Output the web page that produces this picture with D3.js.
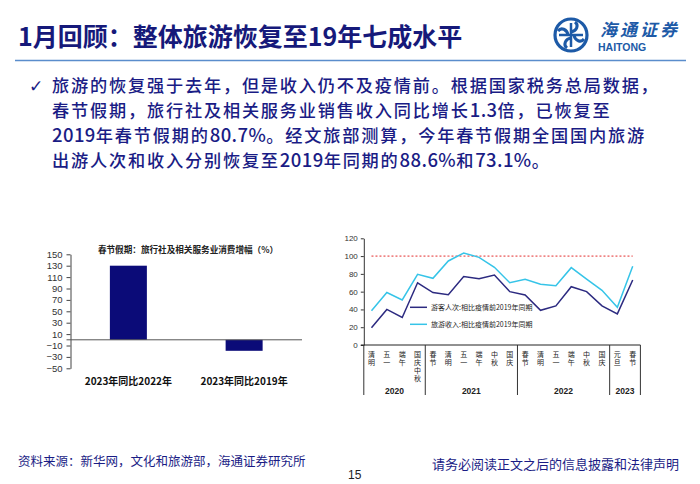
<!DOCTYPE html>
<html><head><meta charset="utf-8">
<script src="https://cdn.jsdelivr.net/npm/d3@7"></script>
<style>
html,body{margin:0;padding:0;background:#fff;}
svg{display:block;font-family:"Noto Sans CJK SC","Liberation Sans",sans-serif;}
.vt{writing-mode:vertical-rl;text-orientation:upright;}
</style></head>
<body>
<svg id="c" width="700" height="484"></svg>
<script>
// ---------- data ----------
const titleText = "1月回顾：整体旅游恢复至19年七成水平";
const bodyLines = [
  "旅游的恢复强于去年，但是收入仍不及疫情前。根据国家税务总局数据，",
  "春节假期，旅行社及相关服务业销售收入同比增长1.3倍，已恢复至",
  "2019年春节假期的80.7%。经文旅部测算，今年春节假期全国国内旅游",
  "出游人次和收入分别恢复至2019年同期的88.6%和73.1%。"
];
// left bar chart
const barTitle = "春节假期：旅行社及相关服务业消费增幅（%）";
const barCats = ["2023年同比2022年", "2023年同比2019年"];
const barVals = [130, -19.3];
const barTicks = [150, 130, 110, 90, 70, 50, 30, 10, -10, -30, -50];
// right line chart
const lineCats = ["清明","五一","端午","国庆中秋",
  "春节","清明","五一","端午","中秋","国庆",
  "春节","清明","五一","端午","中秋","国庆",
  "元旦","春节"];
const yearGroups = [{y:"2020",n:4},{y:"2021",n:6},{y:"2022",n:6},{y:"2023",n:2}];
const visitors = [19.5,40,31,70, 59,56.6,77,74.6,78.7,60, 56.3,39,44,65.6,60,44, 35,73.1];
const revenue  = [38.6,59,50.6,79.5, 75,94.5,103.5,98.6,87.4,70, 74,68.3,66.7,87,74,61.5, 42.4,88.6];
const baseline = lineCats.map(() => 100);
const lineTicks = [0,20,40,60,80,100,120];
const legendNames = ["游客人次:相比疫情前2019年同期","旅游收入:相比疫情前2019年同期"];
const footLeft = "资料来源：新华网，文化和旅游部，海通证券研究所";
const footRight = "请务必阅读正文之后的信息披露和法律声明";
const pageNo = "15";

const svg = d3.select("#c");
const navy = "#1a1c85";

// ---------- header ----------
svg.append("text").attr("x",18).attr("y",46).attr("font-size",25).attr("font-weight","bold")
  .attr("fill","#16197a").text(titleText);
svg.append("line").attr("x1",15).attr("x2",686).attr("y1",60.5).attr("y2",60.5)
  .attr("stroke","#5a8dcc").attr("stroke-width",1.5);

// logo
const logo = svg.append("g").attr("transform","translate(571,35)");
const lc = "#1d5aa7";
logo.append("circle").attr("r",16).attr("fill","none").attr("stroke",lc).attr("stroke-width",3.2);
[0,90,180,270].forEach(a=>{
  logo.append("path").attr("d","M0,-3 C6,-4 8,-10 4,-13").attr("fill","none")
    .attr("stroke",lc).attr("stroke-width",3).attr("transform",`rotate(${a})`);
});
logo.append("line").attr("x1",-12).attr("x2",12).attr("stroke",lc).attr("stroke-width",2.5);
logo.append("line").attr("y1",-12).attr("y2",12).attr("stroke",lc).attr("stroke-width",2.5);
svg.append("text").attr("x",600).attr("y",35.5).attr("font-size",17).attr("font-style","italic")
  .attr("font-weight","bold").attr("fill",lc).attr("letter-spacing",3).text("海通证券");
svg.append("text").attr("x",598).attr("y",50.5).attr("font-size",10.5).attr("font-weight","bold")
  .attr("font-family","Liberation Sans, Arial, sans-serif").attr("fill",lc).text("HAITONG");

// ---------- body text (one paragraph) ----------
svg.append("text").attr("x",29).attr("y",92).attr("font-size",17).attr("fill",navy)
  .attr("font-family","DejaVu Sans").text("✓");
const body = svg.append("text").attr("font-size",17.2).attr("font-weight",500).attr("fill",navy);
bodyLines.forEach((t,i)=>{
  const runs = t.match(/[0-9.%]+|[^0-9.%]+/g);
  runs.forEach((r,j)=>{
    const isNum = /^[0-9.%]+$/.test(r);
    const ts = body.append("tspan").attr("letter-spacing", isNum ? 0.4 : 1.8)
      .attr("font-size", isNum ? 18.5 : 17.2).text(r);
    if (j===0) ts.attr("x",52).attr("y",92 + i*25);
  });
});

// ---------- left bar chart ----------
const bx0 = 70.5, bx1 = 302;
const by = d3.scaleLinear().domain([-50,150]).range([368.3,254.3]);
const bxs = d3.scalePoint().domain(barCats).range([bx0,bx1]).padding(0.5);
const lg = svg.append("g");
lg.append("text").attr("x",188).attr("y",253).attr("text-anchor","middle").attr("font-size",8.6)
  .attr("font-weight","bold").attr("fill","#222").text(barTitle);
const yAx = lg.append("g").attr("transform",`translate(${bx0},0)`)
  .call(d3.axisLeft(by).tickValues(barTicks).tickSize(4).tickSizeOuter(0));
yAx.select(".domain").attr("stroke","#444");
yAx.selectAll(".tick line").attr("stroke","#444");
yAx.selectAll("text").attr("font-family","Liberation Sans, Arial, sans-serif").attr("font-size",9.5)
  .attr("fill","#333").attr("dx",-1);
lg.selectAll("rect.bar").data(barVals).enter().append("rect")
  .attr("x",(d,i)=>bxs(barCats[i]) - 18.5).attr("width",37)
  .attr("y",d=>by(Math.max(0,d))).attr("height",d=>Math.abs(by(d)-by(0)))
  .attr("fill","#0b0b78");
lg.append("line").attr("x1",bx0-4).attr("x2",bx1).attr("y1",by(0)).attr("y2",by(0))
  .attr("stroke","#555").attr("stroke-width",1);
lg.selectAll("text.bl").data(barCats).enter().append("text")
  .attr("x",d=>bxs(d)).attr("y",385).attr("text-anchor","middle").attr("font-size",10)
  .attr("font-weight","bold").attr("fill","#111").text(d=>d);

// ---------- right line chart ----------
const rx0 = 363.8, rx1 = 640.4, ry0 = 345;
const rx = d3.scaleBand().domain(d3.range(lineCats.length)).range([rx0,rx1]);
const ry = d3.scaleLinear().domain([0,120]).range([ry0,238.3]);
const rg = svg.append("g");
const ax = rg.append("g").attr("transform",`translate(${rx0},0)`)
  .call(d3.axisLeft(ry).tickValues(lineTicks).tickSize(3).tickSizeOuter(0));
ax.select(".domain").attr("stroke","#333");
ax.selectAll(".tick line").attr("stroke","#333");
ax.selectAll("text").attr("font-family","Liberation Sans, Arial, sans-serif").attr("font-size",8)
  .attr("fill","#333");
rg.append("line").attr("x1",rx0-3).attr("x2",rx1).attr("y1",ry0).attr("y2",ry0).attr("stroke","#222");
// separators
let acc = 0;
const seps = [0];
yearGroups.forEach(g=>{ acc += g.n; seps.push(acc); });
seps.forEach(k=>{
  const x = k < lineCats.length ? rx.step()*k + rx0 : rx1;
  rg.append("line").attr("x1",x).attr("x2",x).attr("y1",ry0).attr("y2",395).attr("stroke","#333");
});
// year labels
acc = 0;
yearGroups.forEach(g=>{
  const xa = rx0 + rx.step()*acc, xb = rx0 + rx.step()*(acc+g.n);
  rg.append("text").attr("x",(xa+xb)/2).attr("y",394).attr("text-anchor","middle")
    .attr("font-size",8.5).attr("font-weight","bold").attr("font-family","Liberation Sans, Arial, sans-serif")
    .attr("fill","#222").text(g.y);
  acc += g.n;
});
// vertical category labels
lineCats.forEach((c,i)=>{
  rg.append("text").attr("class","vt").attr("x",rx(i)+rx.bandwidth()/2).attr("y",350.5)
    .attr("font-size",7).attr("letter-spacing",1.2).attr("fill","#222").text(c);
});
const lineGen = d3.line().x((d,i)=>rx(i)+rx.bandwidth()/2).y(d=>ry(d));
rg.append("path").datum(baseline).attr("d",lineGen).attr("fill","none")
  .attr("stroke","#e32b2b").attr("stroke-width",1).attr("stroke-dasharray","2,2");
rg.append("path").datum(revenue).attr("d",lineGen).attr("fill","none")
  .attr("stroke","#36c4e8").attr("stroke-width",1.5);
rg.append("path").datum(visitors).attr("d",lineGen).attr("fill","none")
  .attr("stroke","#2c2a80").attr("stroke-width",1.5);
// legend
[["#2c2a80",307.3],["#36c4e8",324.3]].forEach((l,i)=>{
  rg.append("line").attr("x1",410).attr("x2",427).attr("y1",l[1]).attr("y2",l[1])
    .attr("stroke",l[0]).attr("stroke-width",1.5);
  rg.append("text").attr("x",431).attr("y",l[1]+2.5).attr("font-size",7).attr("fill","#222")
    .text(legendNames[i]);
});

// ---------- footer ----------
svg.append("text").attr("x",18).attr("y",466).attr("font-size",12.5).attr("fill",navy).text(footLeft);
svg.append("text").attr("x",432).attr("y",469).attr("font-size",13).attr("fill",navy).text(footRight);
svg.append("text").attr("x",348).attr("y",479).attr("font-size",12).attr("fill","#222")
  .attr("font-family","Liberation Sans, Arial, sans-serif").text(pageNo);
</script>
</body></html>
